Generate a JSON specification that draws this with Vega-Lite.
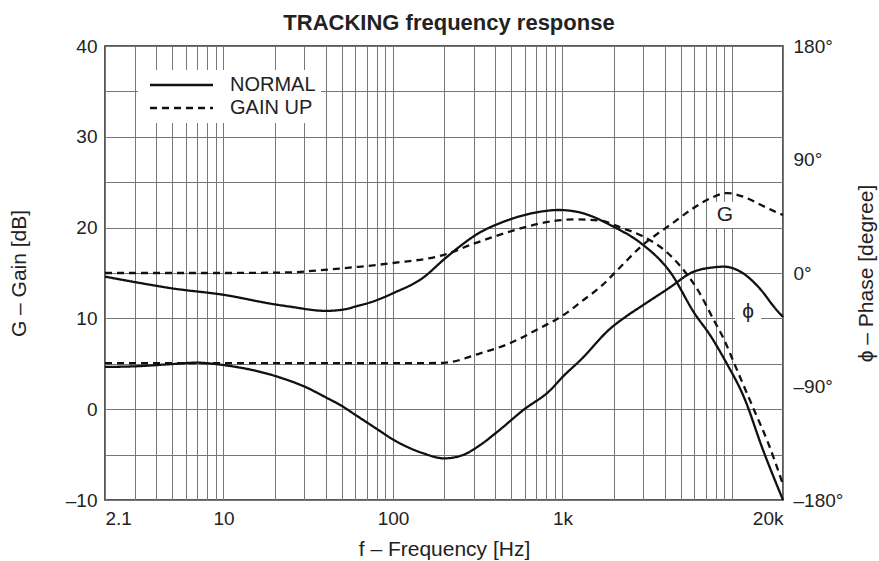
{
  "$schema": "https://vega.github.io/schema/vega-lite/v6.json",
  "width": 678,
  "height": 454,
  "autosize": {"type": "none"},
  "padding": {"left": 105, "top": 46, "right": 96, "bottom": 61},
  "background": "white",
  "title": {"text": "TRACKING frequency response", "font": "Liberation Sans", "fontSize": 22, "fontWeight": "bold", "color": "#222", "anchor": "middle", "offset": 2, "dx": 5},
  "config": {
    "font": "Liberation Sans",
    "view": {"stroke": "#222", "strokeWidth": 1.5},
    "axis": {"gridColor": "#777", "gridWidth": 1, "gridOpacity": 1, "ticks": false, "domain": false, "labelFont": "Liberation Sans", "labelFontSize": 19, "labelColor": "#222", "titleFont": "Liberation Sans", "titleFontSize": 21, "titleFontWeight": "normal", "titleColor": "#222", "labelOverlap": false},
    "legend": {"fillColor": "white", "padding": 5, "symbolType": "M-1,0H20", "symbolSize": 36, "symbolStrokeWidth": 2.4, "symbolStrokeColor": "#111", "labelFont": "Liberation Sans", "labelFontSize": 20, "labelColor": "#222", "labelOffset": 67, "rowPadding": 3}
  },
  "datasets": {
    "curves": [
      {"f": 2, "v": 14.6, "q": "G", "mode": "NORMAL"},
      {"f": 3, "v": 14.0, "q": "G", "mode": "NORMAL"},
      {"f": 5, "v": 13.3, "q": "G", "mode": "NORMAL"},
      {"f": 10, "v": 12.6, "q": "G", "mode": "NORMAL"},
      {"f": 20, "v": 11.55, "q": "G", "mode": "NORMAL"},
      {"f": 24.6, "v": 11.3, "q": "G", "mode": "NORMAL"},
      {"f": 40, "v": 10.83, "q": "G", "mode": "NORMAL"},
      {"f": 50, "v": 10.95, "q": "G", "mode": "NORMAL"},
      {"f": 60, "v": 11.3, "q": "G", "mode": "NORMAL"},
      {"f": 80, "v": 12.0, "q": "G", "mode": "NORMAL"},
      {"f": 100, "v": 12.77, "q": "G", "mode": "NORMAL"},
      {"f": 151, "v": 14.5, "q": "G", "mode": "NORMAL"},
      {"f": 200, "v": 16.5, "q": "G", "mode": "NORMAL"},
      {"f": 259, "v": 18.2, "q": "G", "mode": "NORMAL"},
      {"f": 297, "v": 19.0, "q": "G", "mode": "NORMAL"},
      {"f": 473, "v": 20.8, "q": "G", "mode": "NORMAL"},
      {"f": 741, "v": 21.75, "q": "G", "mode": "NORMAL"},
      {"f": 947, "v": 21.94, "q": "G", "mode": "NORMAL"},
      {"f": 1278, "v": 21.65, "q": "G", "mode": "NORMAL"},
      {"f": 2000, "v": 20.1, "q": "G", "mode": "NORMAL"},
      {"f": 2894, "v": 18.3, "q": "G", "mode": "NORMAL"},
      {"f": 4360, "v": 15.0, "q": "G", "mode": "NORMAL"},
      {"f": 5990, "v": 10.6, "q": "G", "mode": "NORMAL"},
      {"f": 7520, "v": 8.0, "q": "G", "mode": "NORMAL"},
      {"f": 9210, "v": 5.2, "q": "G", "mode": "NORMAL"},
      {"f": 11780, "v": 1.3, "q": "G", "mode": "NORMAL"},
      {"f": 15250, "v": -4.5, "q": "G", "mode": "NORMAL"},
      {"f": 20000, "v": -10, "q": "G", "mode": "NORMAL"},

      {"f": 2, "v": 15.0, "q": "G", "mode": "GAIN UP"},
      {"f": 10, "v": 15.0, "q": "G", "mode": "GAIN UP"},
      {"f": 24.6, "v": 15.07, "q": "G", "mode": "GAIN UP"},
      {"f": 37, "v": 15.3, "q": "G", "mode": "GAIN UP"},
      {"f": 60, "v": 15.65, "q": "G", "mode": "GAIN UP"},
      {"f": 100, "v": 16.1, "q": "G", "mode": "GAIN UP"},
      {"f": 200, "v": 17.0, "q": "G", "mode": "GAIN UP"},
      {"f": 297, "v": 18.2, "q": "G", "mode": "GAIN UP"},
      {"f": 588, "v": 20.0, "q": "G", "mode": "GAIN UP"},
      {"f": 741, "v": 20.47, "q": "G", "mode": "GAIN UP"},
      {"f": 1162, "v": 20.9, "q": "G", "mode": "GAIN UP"},
      {"f": 1678, "v": 20.76, "q": "G", "mode": "GAIN UP"},
      {"f": 2205, "v": 20.0, "q": "G", "mode": "GAIN UP"},
      {"f": 3014, "v": 19.0, "q": "G", "mode": "GAIN UP"},
      {"f": 4180, "v": 17.2, "q": "G", "mode": "GAIN UP"},
      {"f": 4990, "v": 15.7, "q": "G", "mode": "GAIN UP"},
      {"f": 6300, "v": 13.1, "q": "G", "mode": "GAIN UP"},
      {"f": 7820, "v": 9.8, "q": "G", "mode": "GAIN UP"},
      {"f": 8970, "v": 7.7, "q": "G", "mode": "GAIN UP"},
      {"f": 10280, "v": 5.1, "q": "G", "mode": "GAIN UP"},
      {"f": 13300, "v": 0.2, "q": "G", "mode": "GAIN UP"},
      {"f": 16330, "v": -3.7, "q": "G", "mode": "GAIN UP"},
      {"f": 20000, "v": -8.3, "q": "G", "mode": "GAIN UP"},

      {"f": 2, "v": -74.5, "q": "phi", "mode": "NORMAL"},
      {"f": 3, "v": -74, "q": "phi", "mode": "NORMAL"},
      {"f": 5, "v": -72.2, "q": "phi", "mode": "NORMAL"},
      {"f": 6.9, "v": -71.1, "q": "phi", "mode": "NORMAL"},
      {"f": 10, "v": -73, "q": "phi", "mode": "NORMAL"},
      {"f": 20, "v": -81.5, "q": "phi", "mode": "NORMAL"},
      {"f": 24.6, "v": -85.5, "q": "phi", "mode": "NORMAL"},
      {"f": 30, "v": -90, "q": "phi", "mode": "NORMAL"},
      {"f": 40, "v": -98.5, "q": "phi", "mode": "NORMAL"},
      {"f": 50, "v": -105.5, "q": "phi", "mode": "NORMAL"},
      {"f": 60, "v": -112.5, "q": "phi", "mode": "NORMAL"},
      {"f": 80, "v": -123.5, "q": "phi", "mode": "NORMAL"},
      {"f": 100, "v": -132, "q": "phi", "mode": "NORMAL"},
      {"f": 151, "v": -143, "q": "phi", "mode": "NORMAL"},
      {"f": 200, "v": -147, "q": "phi", "mode": "NORMAL"},
      {"f": 259, "v": -144.3, "q": "phi", "mode": "NORMAL"},
      {"f": 327, "v": -136.4, "q": "phi", "mode": "NORMAL"},
      {"f": 412, "v": -126, "q": "phi", "mode": "NORMAL"},
      {"f": 588, "v": -108.6, "q": "phi", "mode": "NORMAL"},
      {"f": 849, "v": -92.8, "q": "phi", "mode": "NORMAL"},
      {"f": 1000, "v": -82.5, "q": "phi", "mode": "NORMAL"},
      {"f": 1278, "v": -69, "q": "phi", "mode": "NORMAL"},
      {"f": 1920, "v": -43.9, "q": "phi", "mode": "NORMAL"},
      {"f": 2400, "v": -34.0, "q": "phi", "mode": "NORMAL"},
      {"f": 2894, "v": -26.7, "q": "phi", "mode": "NORMAL"},
      {"f": 4360, "v": -10.9, "q": "phi", "mode": "NORMAL"},
      {"f": 5710, "v": 0, "q": "phi", "mode": "NORMAL"},
      {"f": 7820, "v": 4.5, "q": "phi", "mode": "NORMAL"},
      {"f": 8970, "v": 5.0, "q": "phi", "mode": "NORMAL"},
      {"f": 11300, "v": 0.8, "q": "phi", "mode": "NORMAL"},
      {"f": 14850, "v": -13.5, "q": "phi", "mode": "NORMAL"},
      {"f": 17740, "v": -27, "q": "phi", "mode": "NORMAL"},
      {"f": 20000, "v": -34.9, "q": "phi", "mode": "NORMAL"},

      {"f": 2, "v": -71.5, "q": "phi", "mode": "GAIN UP"},
      {"f": 50, "v": -71.5, "q": "phi", "mode": "GAIN UP"},
      {"f": 150, "v": -71.5, "q": "phi", "mode": "GAIN UP"},
      {"f": 200, "v": -71.2, "q": "phi", "mode": "GAIN UP"},
      {"f": 327, "v": -63.7, "q": "phi", "mode": "GAIN UP"},
      {"f": 473, "v": -56.5, "q": "phi", "mode": "GAIN UP"},
      {"f": 741, "v": -43.5, "q": "phi", "mode": "GAIN UP"},
      {"f": 1014, "v": -33.3, "q": "phi", "mode": "GAIN UP"},
      {"f": 1331, "v": -21.4, "q": "phi", "mode": "GAIN UP"},
      {"f": 1678, "v": -10.9, "q": "phi", "mode": "GAIN UP"},
      {"f": 2205, "v": 5.0, "q": "phi", "mode": "GAIN UP"},
      {"f": 2894, "v": 20.8, "q": "phi", "mode": "GAIN UP"},
      {"f": 3650, "v": 31.3, "q": "phi", "mode": "GAIN UP"},
      {"f": 4360, "v": 38.5, "q": "phi", "mode": "GAIN UP"},
      {"f": 5710, "v": 50, "q": "phi", "mode": "GAIN UP"},
      {"f": 7520, "v": 59.5, "q": "phi", "mode": "GAIN UP"},
      {"f": 9340, "v": 63.4, "q": "phi", "mode": "GAIN UP"},
      {"f": 11780, "v": 60.3, "q": "phi", "mode": "GAIN UP"},
      {"f": 14850, "v": 53.9, "q": "phi", "mode": "GAIN UP"},
      {"f": 18700, "v": 47.6, "q": "phi", "mode": "GAIN UP"},
      {"f": 20000, "v": 46, "q": "phi", "mode": "GAIN UP"}
    ],
    "notes": [
      {"f": 9100, "v": 21.4, "label": "G"},
      {"f": 12450, "v": 10.7, "label": "ϕ"}
    ]
  },
  "layer": [
    {
      "data": {"name": "notes"},
      "mark": {"type": "point", "shape": "square", "filled": true, "color": "white", "opacity": 1, "size": 680, "strokeWidth": 0},
      "encoding": {
        "x": {"field": "f", "type": "quantitative", "scale": {"type": "log", "domain": [2, 20000], "nice": false},
          "axis": {"values": [2,3,4,5,6,7,8,9,10,20,30,40,50,60,70,80,90,100,200,300,400,500,600,700,800,900,1000,2000,3000,4000,5000,6000,7000,8000,9000,10000,20000],
            "labelExpr": "datum.value == 2 ? '2.1' : datum.value == 10 ? '10' : datum.value == 100 ? '100' : datum.value == 1000 ? '1k' : datum.value == 20000 ? '20k' : ''",
            "grid": true, "labelFlush": true, "labelPadding": 9, "title": "f – Frequency [Hz]", "titlePadding": 10}},
        "y": {"field": "v", "type": "quantitative", "scale": {"domain": [-10, 40], "nice": false, "zero": false}, "axis": null}
      }
    },
    {
      "data": {"name": "curves"},
      "transform": [{"filter": "datum.q == 'G'"}],
      "mark": {"type": "line", "interpolate": "monotone", "color": "#111", "strokeWidth": 2.3},
      "encoding": {
        "x": {"field": "f", "type": "quantitative", "scale": {"type": "log", "domain": [2, 20000], "nice": false}},
        "y": {"field": "v", "type": "quantitative", "scale": {"domain": [-10, 40], "nice": false, "zero": false},
          "axis": {"orient": "left", "values": [-10,-5,0,5,10,15,20,25,30,35,40], "labelExpr": "datum.value % 10 != 0 ? '' : datum.value < 0 ? '–' + abs(datum.value) : '' + datum.value", "grid": true, "labelPadding": 8, "title": "G – Gain [dB]", "titlePadding": 36}},
        "strokeDash": {"field": "mode", "type": "nominal", "scale": {"domain": ["NORMAL", "GAIN UP"], "range": [[1, 0], [7, 5]]},
          "legend": {"orient": "none", "legendX": 33, "legendY": 24, "title": null}}
      }
    },
    {
      "data": {"name": "curves"},
      "transform": [{"filter": "datum.q == 'phi'"}],
      "mark": {"type": "line", "interpolate": "monotone", "color": "#111", "strokeWidth": 2.3},
      "encoding": {
        "x": {"field": "f", "type": "quantitative", "scale": {"type": "log", "domain": [2, 20000], "nice": false}},
        "y": {"field": "v", "type": "quantitative", "scale": {"domain": [-180, 180], "nice": false, "zero": false},
          "axis": {"orient": "right", "values": [-180, -90, 0, 90, 180], "labelExpr": "(datum.value < 0 ? '–' + abs(datum.value) : '' + datum.value) + '°'", "grid": false, "labelPadding": 10, "title": "ϕ – Phase [degree]", "titleAngle": 270, "titleBaseline": "top", "titlePadding": 13}},
        "strokeDash": {"field": "mode", "type": "nominal", "scale": {"domain": ["NORMAL", "GAIN UP"], "range": [[1, 0], [7, 5]]},
          "legend": {"orient": "none", "legendX": 33, "legendY": 24, "title": null}}
      }
    },
    {
      "data": {"name": "notes"},
      "mark": {"type": "text", "font": "Liberation Sans", "fontSize": 21, "color": "#222", "align": "center", "baseline": "middle"},
      "encoding": {
        "x": {"field": "f", "type": "quantitative", "scale": {"type": "log", "domain": [2, 20000], "nice": false}},
        "y": {"field": "v", "type": "quantitative", "scale": {"domain": [-10, 40], "nice": false, "zero": false}, "axis": null},
        "text": {"field": "label"}
      }
    }
  ],
  "resolve": {"scale": {"y": "independent"}}
}
